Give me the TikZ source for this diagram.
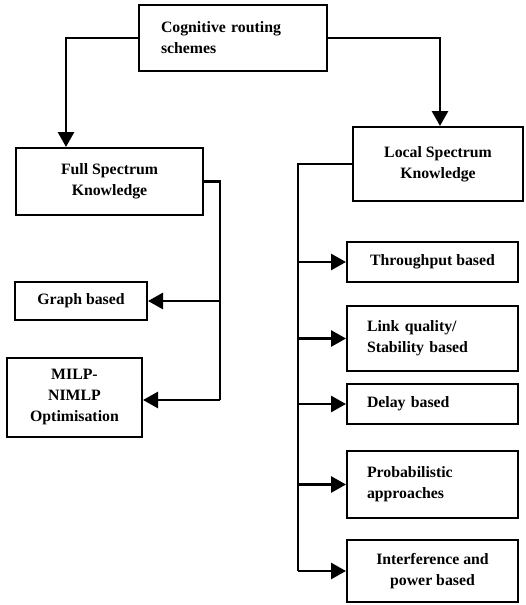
\documentclass[tikz,border=0pt]{standalone}
\usepackage{fontspec}
\setmainfont{Liberation Serif}
\usetikzlibrary{arrows.meta}
\begin{document}
\begin{tikzpicture}[x=1pt,y=-1pt,
  box/.style={draw,line width=2pt,inner sep=0pt,font=\fontsize{15.8}{21}\selectfont\bfseries},
  cbox/.style={box,align=center},
  lbox/.style={box,align=left},
  conn/.style={line width=2.8pt},
  arr/.style={conn,-{Triangle[length=15pt,width=16pt]}}]
\useasboundingbox (0,0) rectangle (525,605);
% boxes
\node[lbox,minimum width=188pt,minimum height=66pt,inner xsep=22pt,text width=144pt] (top) at (233,38) {Cognitive routing\\schemes};
\node[cbox,minimum width=187pt,minimum height=67pt] (full) at (109.5,181.5) {Full Spectrum\\Knowledge};
\node[cbox,minimum width=170pt,minimum height=74pt] (local) at (438,164) {Local Spectrum\\Knowledge};
\node[cbox,minimum width=132pt,minimum height=38pt] (graph) at (81,301) {Graph based};
\node[cbox,minimum width=135pt,minimum height=79pt] (milp) at (74.5,397.5) {MILP-\\NIMLP\\Optimisation};
\node[cbox,minimum width=171pt,minimum height=40pt] (thr) at (432.5,262) {Throughput based};
\node[lbox,minimum width=171pt,minimum height=65pt,inner xsep=20pt,text width=131pt] (link) at (432.5,338.5) {Link quality/\\Stability based};
\node[lbox,minimum width=171pt,minimum height=40pt,inner xsep=20pt,text width=131pt] (delay) at (432.5,404) {Delay based};
\node[lbox,minimum width=171pt,minimum height=67pt,inner xsep=20pt,text width=131pt] (prob) at (432.5,484.5) {Probabilistic\\approaches};
\node[cbox,minimum width=171pt,minimum height=62pt] (intf) at (432.5,571) {Interference and\\power based};
% connectors from top
\draw[arr] (top.west) -| ([xshift=51pt]full.north west);
\draw[arr] (top.east) -| ([xshift=88pt]local.north west);
% full spectrum branch
\coordinate (fb) at (220,400);
\draw[conn] (full.east) -| (fb);
\draw[arr] (fb) -- (fb -| milp.east);
\draw[arr] (fb |- graph.east) -- (graph.east);
% local spectrum branch
\coordinate (lb) at (298,571);
\draw[conn] (local.west) -| (lb);
\draw[arr] (lb) -- (intf.west);
\draw[arr] (lb |- thr.west) -- (thr.west);
\draw[arr] (lb |- link.west) -- (link.west);
\draw[arr] (lb |- delay.west) -- (delay.west);
\draw[arr] (lb |- prob.west) -- (prob.west);
\end{tikzpicture}
\end{document}
